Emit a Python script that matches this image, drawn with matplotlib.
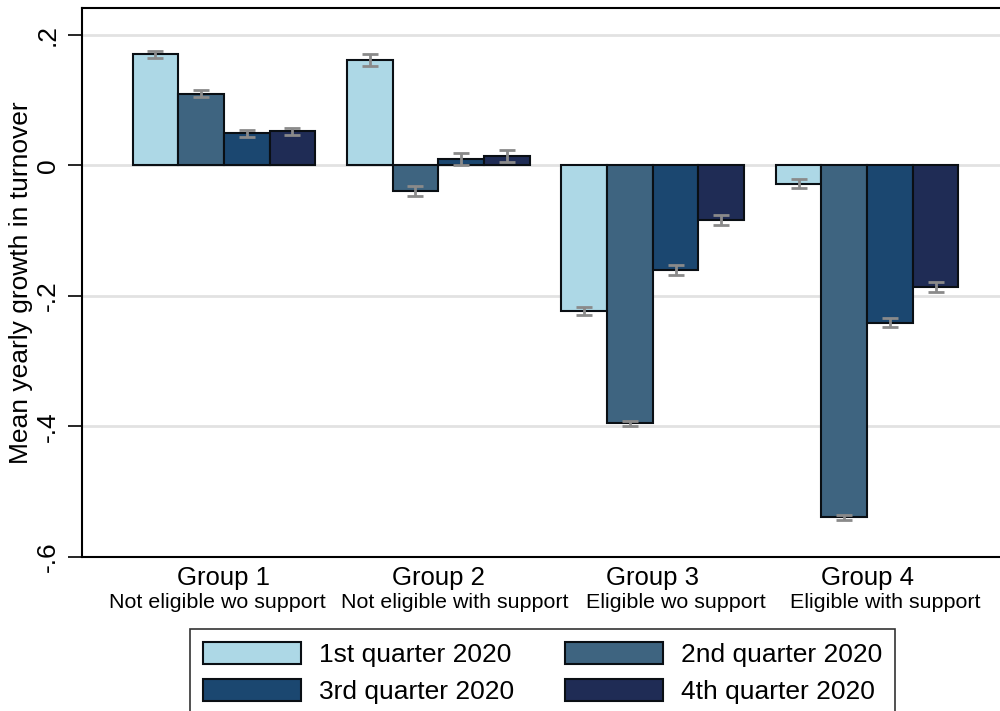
import numpy as np
import matplotlib
matplotlib.use("Agg")
import matplotlib.pyplot as plt
from matplotlib.transforms import blended_transform_factory

plt.rcParams['font.family'] = ['Liberation Sans', 'DejaVu Sans']

groups = ["Group 1", "Group 2", "Group 3", "Group 4"]
subtitles = ["Not eligible wo support", "Not eligible with support",
             "Eligible wo support", "Eligible with support"]
quarters = ["1st quarter 2020", "2nd quarter 2020", "3rd quarter 2020", "4th quarter 2020"]

# mean yearly growth in turnover, by quarter (rows) and group (columns)
means = [
    [0.170, 0.162, -0.223, -0.028],
    [0.110, -0.039, -0.395, -0.539],
    [0.049, 0.010, -0.160, -0.241],
    [0.052, 0.014, -0.084, -0.186],
]
# half-width of the confidence intervals
ci = [
    [0.005, 0.009, 0.0066, 0.007],
    [0.005, 0.0076, 0.004, 0.004],
    [0.005, 0.009, 0.0074, 0.007],
    [0.005, 0.009, 0.008, 0.0076],
]

colors = ["#ADD8E6", "#3E6480", "#1B4770", "#1F2C55"]
yticks = [0.2, 0, -0.2, -0.4, -0.6]
yticklabels = [".2", "0", "-.2", "-.4", "-.6"]

fig = plt.figure(figsize=(10, 7.11), dpi=100)
ax = fig.add_axes([0.082, 0.2166, 0.918, 0.772])

x = np.arange(len(groups))
width = 0.213
handles = []
for i, (q, c) in enumerate(zip(quarters, colors)):
    pos = x + (i - 1.5) * width
    h = ax.bar(pos, means[i], width=width, color=c, edgecolor="#0a0f14",
               linewidth=1.5, label=q, zorder=2)
    handles.append(h)
    ax.errorbar(pos, means[i], yerr=ci[i], fmt="none", ecolor="#8a8a8a",
                elinewidth=2, capsize=6, capthick=2, zorder=3)

ax.set_ylim(-0.6, 0.241)
ax.set_xlim(-0.662, 3.62)
ax.set_yticks(yticks)
ax.set_yticklabels(yticklabels, rotation=90, va="center", fontsize=19)
ax.tick_params(axis="y", length=10, width=1.2, pad=6)
ax.set_xticks([])
for y in yticks[:-1]:
    ax.axhline(y, color="#e2e2e2", linewidth=2, zorder=0)

for side in ["left", "bottom", "top"]:
    ax.spines[side].set_linewidth(1.5)
    ax.spines[side].set_color("black")
ax.spines["right"].set_visible(False)

ax.set_ylabel("Mean yearly growth in turnover", fontsize=19, labelpad=2)

# two-line group labels under the axis
sub_offsets = [-0.03, 0.075, 0.11, 0.085]
trans = blended_transform_factory(ax.transData, fig.transFigure)
for xi, g, s, off in zip(x, groups, subtitles, sub_offsets):
    ax.text(xi, 1 - 578 / 711, g, transform=trans, ha="center", va="center",
            fontsize=18.5)
    ax.text(xi + off, 1 - 602 / 711, s, transform=trans, ha="center",
            va="center", fontsize=15.4)

# legend entries read row by row: 1st, 2nd / 3rd, 4th
order = [0, 2, 1, 3]
leg = fig.legend([handles[k] for k in order], [quarters[k] for k in order],
                 loc="upper left", bbox_to_anchor=(0.19, 1 - 629 / 711),
                 ncol=2, fontsize=19, frameon=True, fancybox=False,
                 edgecolor="black", handlelength=3.7, handleheight=0.9,
                 handletextpad=0.68, columnspacing=1.95, labelspacing=0.45,
                 borderpad=0.5, borderaxespad=0)
leg.get_frame().set_linewidth(1.2)

fig.savefig("out.png", dpi=100)
